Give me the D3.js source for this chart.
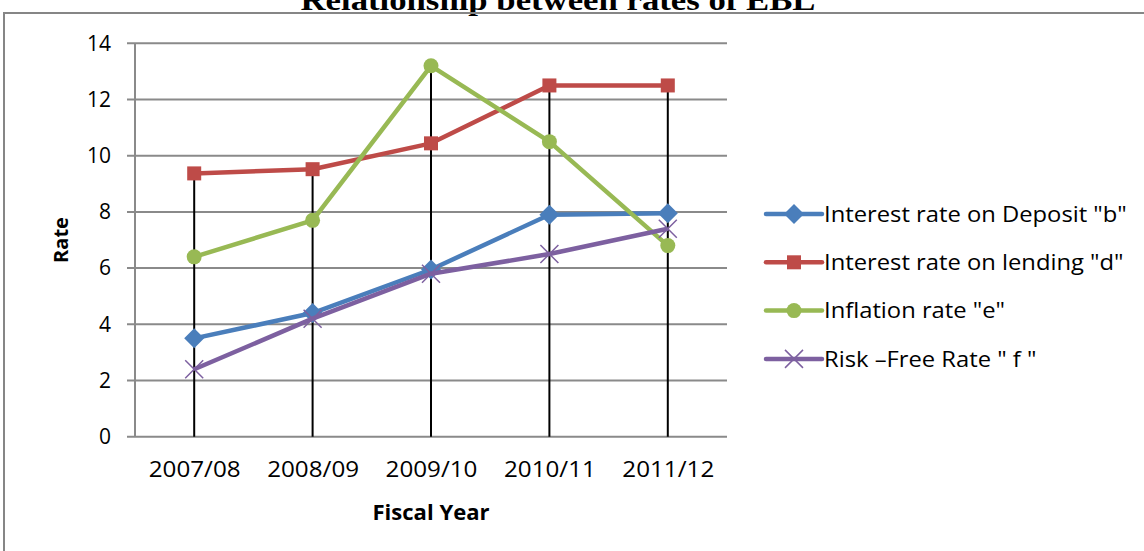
<!DOCTYPE html>
<html>
<head>
<meta charset="utf-8">
<script src="https://cdn.jsdelivr.net/npm/d3@7"></script>
<style>
  html, body { margin: 0; padding: 0; background: #fff; overflow: hidden; }
  svg { display: block; }
</style>
</head>
<body>
<svg id="chart"></svg>
<script>
const years = ['2007/08', '2008/09', '2009/10', '2010/11', '2011/12'];
const yTicks = [0, 2, 4, 6, 8, 10, 12, 14];

const deposit = [3.5, 4.4, 5.95, 7.9, 7.95];
const lending = [9.37, 9.52, 10.44, 12.5, 12.5];
const inflation = [6.4, 7.7, 13.2, 10.5, 6.8];
const riskFree = [2.4, 4.2, 5.8, 6.5, 7.4];

const seriesNames = [
  'Interest rate  on Deposit "b"',
  'Interest rate on lending "d"',
  'Inflation rate "e"',
  'Risk \u2013Free Rate " f "'
];

const series = [
  { name: seriesNames[0], values: deposit, color: '#4A7EBB', marker: 'diamond' },
  { name: seriesNames[1], values: lending, color: '#BE4B48', marker: 'square' },
  { name: seriesNames[2], values: inflation, color: '#98B954', marker: 'circle' },
  { name: seriesNames[3], values: riskFree, color: '#7D60A0', marker: 'cross' }
];

const W = 1144, H = 551;
const plot = { left: 135, right: 727, top: 43.3, bottom: 436.7 };
const font = '"Open Sans", sans-serif';

const svg = d3.select('#chart').attr('width', W).attr('height', H);

// the source text is a bit wider than our fonts, stretch it a little
function stretch(sel, k) {
  sel.each(function () {
    const w = this.getComputedTextLength();
    d3.select(this).attr('textLength', w * k).attr('lengthAdjust', 'spacingAndGlyphs');
  });
}

// title (cut off at top like the source)
svg.append('text')
  .attr('x', 558).attr('y', 10)
  .attr('text-anchor', 'middle')
  .style('font-family', '"Liberation Serif", "Times New Roman", serif')
  .style('font-weight', 'bold')
  .style('font-size', '30px')
  .text('Relationship between rates of EBL')
  .attr('textLength', 515)
  .attr('lengthAdjust', 'spacingAndGlyphs');

// chart border: only top and left edges fall inside the picture
svg.append('path')
  .attr('d', `M4,${H + 5}V13H${W + 5}`)
  .attr('fill', 'none')
  .attr('stroke', '#868686')
  .attr('stroke-width', 2);

const x = d3.scalePoint().domain(years).range([plot.left, plot.right]).padding(0.5);
const y = d3.scaleLinear().domain([0, 14]).range([plot.bottom, plot.top]);

// gridlines
svg.append('g')
  .selectAll('line')
  .data(yTicks)
  .join('line')
  .attr('x1', plot.left - 8).attr('x2', plot.right)
  .attr('y1', d => y(d)).attr('y2', d => y(d))
  .attr('stroke', '#8a8a8a')
  .attr('stroke-width', 2);

// y axis line
svg.append('line')
  .attr('x1', plot.left).attr('x2', plot.left)
  .attr('y1', plot.top).attr('y2', plot.bottom)
  .attr('stroke', '#8a8a8a')
  .attr('stroke-width', 2);

// y axis labels
const yAxis = d3.axisLeft(y).tickValues(yTicks).tickSize(0).tickPadding(24);
const gy = svg.append('g').attr('transform', `translate(${plot.left},0)`).call(yAxis);
gy.select('.domain').remove();
gy.selectAll('text')
  .style('font-family', font)
  .style('font-size', '21px')
  .attr('fill', '#000');

// x axis labels
const xAxis = d3.axisBottom(x).tickSize(0).tickPadding(25);
const gx = svg.append('g').attr('transform', `translate(0,${plot.bottom})`).call(xAxis);
gx.select('.domain').remove();
gx.selectAll('text')
  .style('font-family', font)
  .style('font-size', '22px')
  .attr('fill', '#000')
  .call(stretch, 1.1);

// drop lines from the highest point down to the axis
const maxima = years.map((yr, i) => d3.max(series, s => s.values[i]));
svg.append('g')
  .selectAll('line')
  .data(years)
  .join('line')
  .attr('x1', d => x(d)).attr('x2', d => x(d))
  .attr('y1', (d, i) => y(maxima[i])).attr('y2', plot.bottom)
  .attr('stroke', '#000')
  .attr('stroke-width', 2);

// axis titles
svg.append('text')
  .attr('transform', 'translate(68,240) rotate(-90)')
  .attr('text-anchor', 'middle')
  .style('font-family', font)
  .style('font-weight', 'bold')
  .style('font-size', '20px')
  .text('Rate');

svg.append('text')
  .attr('x', 431).attr('y', 520)
  .attr('text-anchor', 'middle')
  .style('font-family', font)
  .style('font-weight', 'bold')
  .style('font-size', '21px')
  .text('Fiscal Year')
  .call(stretch, 1.05);

function drawMarker(g, type, color) {
  if (type === 'diamond') {
    g.append('path').attr('d', 'M0,-10L10,0L0,10L-10,0Z').attr('fill', color);
  } else if (type === 'square') {
    g.append('rect').attr('x', -7).attr('y', -7).attr('width', 14).attr('height', 14).attr('fill', color);
  } else if (type === 'circle') {
    g.append('circle').attr('r', 7.5).attr('fill', color);
  } else {
    g.append('path').attr('d', 'M-9,-9L9,9M-9,9L9,-9')
      .attr('stroke', color).attr('stroke-width', 1.5).attr('fill', 'none');
  }
}

const line = d3.line().x((d, i) => x(years[i])).y(d => y(d));

series.forEach(s => {
  svg.append('path')
    .datum(s.values)
    .attr('d', line)
    .attr('fill', 'none')
    .attr('stroke', s.color)
    .attr('stroke-width', 4.5)
    .attr('stroke-linejoin', 'round');
  s.values.forEach((v, i) => {
    const g = svg.append('g').attr('transform', `translate(${x(years[i])},${y(v)})`);
    drawMarker(g, s.marker, s.color);
  });
});

// legend
const legend = svg.append('g').attr('transform', 'translate(766,214)');
series.forEach((s, i) => {
  const row = legend.append('g').attr('transform', `translate(0,${i * 48.3})`);
  row.append('line')
    .attr('x1', 0).attr('x2', 56)
    .attr('stroke', s.color)
    .attr('stroke-width', 4.5)
    .attr('stroke-linecap', 'round');
  drawMarker(row.append('g').attr('transform', 'translate(28,0)'), s.marker, s.color);
  row.append('text')
    .attr('x', 58).attr('y', 0)
    .attr('dy', '0.35em')
    .style('font-family', font)
    .style('font-size', '22px')
    .text(s.name)
    .call(stretch, 1.08);
});
</script>
</body>
</html>
